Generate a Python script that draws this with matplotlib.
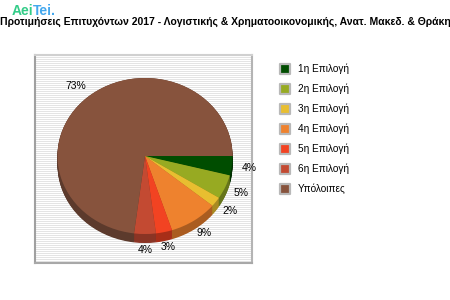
import numpy as np
import matplotlib.pyplot as plt

title = "Προτιμήσεις Επιτυχόντων 2017 - Λογιστικής & Χρηματοοικονομικής, Ανατ. Μακεδ. & Θράκη"
labels = ["1η Επιλογή", "2η Επιλογή", "3η Επιλογή", "4η Επιλογή",
          "5η Επιλογή", "6η Επιλογή", "Υπόλοιπες"]
values = [4, 5, 2, 9, 3, 4, 73]
colors = ["#004d00", "#97aa22", "#e8be30", "#ee822e", "#f24322", "#c34a32", "#87533d"]
side_colors = ["#003000", "#66751a", "#a88a22", "#aa5c20", "#a82e18", "#8a3424", "#5c3a2c"]

W, H = 450, 300
fig = plt.figure(figsize=(4.5, 3), dpi=100)
plt.rcParams['font.family'] = ['Liberation Sans', 'DejaVu Sans']

def px_axes(x0, y0, x1, y1, **kw):
    return fig.add_axes([x0 / W, 1 - y1 / H, (x1 - x0) / W, (y1 - y0) / H], **kw)

# striped plot area
bg = px_axes(35, 55, 252, 263)
bg.set_xlim(0, 1)
bg.set_ylim(0, 208)
bg.hlines(np.arange(0, 208, 2), 0, 1, color="#e4e4e4", lw=0.72)
bg.set_xticks([])
bg.set_yticks([])
for side, c in [("left", "#a0a0a0"), ("bottom", "#a8a8a8"), ("top", "#d0d0d0"), ("right", "#b4b4b4")]:
    bg.spines[side].set_color(c)
    bg.spines[side].set_linewidth(1.5)

# pie
cx, cy, rx, ry = 145, 156, 87.5, 78
ax = px_axes(cx - rx, 70, cx + rx, 250)
depth = 9 / ry
for k in np.linspace(depth, 0, 14):
    ax.pie(values, colors=side_colors, startangle=0, counterclock=False,
           center=(0, -k), wedgeprops=dict(linewidth=0))
ax.pie(values, colors=colors, startangle=0, counterclock=False,
       autopct=lambda p: f"{p:.0f}%", pctdistance=1.2,
       wedgeprops=dict(linewidth=0), textprops=dict(fontsize=7.5, color="black"))
ax.set_aspect("auto")
ax.set_xlim(-1, 1)
ax.set_ylim(-(250 - cy) / ry, (cy - 70) / ry)
ax.axis("off")

# legend
lax = px_axes(270, 59, 420, 199)
lax.set_xlim(0, 150)
lax.set_ylim(len(labels) - 0.5, -0.5)
lax.scatter(np.full(len(labels), 15), np.arange(len(labels)), marker="s", s=60,
            c=colors, edgecolors="#b8b8b8", linewidths=1.6)
for i, lab in enumerate(labels):
    lax.text(28, i, lab, fontsize=7.2, va="center", ha="left")
lax.axis("off")

# title and logo
fig.text(0.5, 1 - 22 / H, title, ha="center", va="center", fontsize=7.5, fontweight="bold")
fig.text(12 / W, 1 - 11 / H, "Aei", ha="left", va="center", fontsize=10,
         fontweight="bold", color="#33cc88")
fig.text(33 / W, 1 - 11 / H, "Tei.", ha="left", va="center", fontsize=10,
         fontweight="bold", color="#44a8ee")

fig.savefig("out.png", dpi=100)
